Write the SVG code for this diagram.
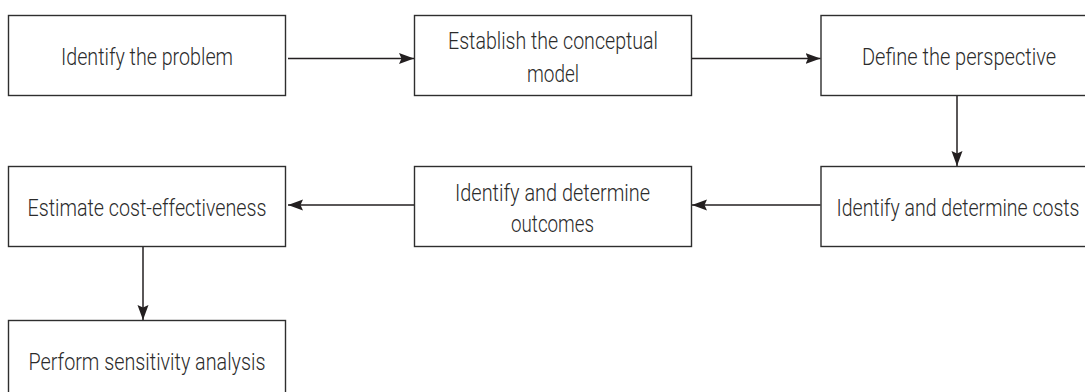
<svg xmlns="http://www.w3.org/2000/svg" width="1085" height="392" viewBox="0 0 1085 392">
<style>
.box{fill:#fff;stroke:#2e2e2e;stroke-width:1.4}
.lbl{font-family:Roboto,"Liberation Sans Narrow","DejaVu Sans Condensed",sans-serif;font-weight:300;font-size:24px;fill:#2b2b2b;text-anchor:middle}
.con{stroke:#231f20;stroke-width:1.5;fill:none;marker-end:url(#ah)}
</style>
<defs>
<marker id="ah" markerUnits="userSpaceOnUse" markerWidth="16" markerHeight="12" viewBox="0 0 16 12" refX="15" refY="6" orient="auto">
<path d="M0,0.5 L15,6 L0,11.5 L2.5,6 z" fill="#231f20"/>
</marker>
</defs>
<g id="n1"><rect class="box" x="8.5" y="15.5" width="277" height="80"/><text class="lbl" x="147" y="64.5" textLength="172" lengthAdjust="spacingAndGlyphs">Identify the problem</text></g>
<g id="n2"><rect class="box" x="414.5" y="15.5" width="277" height="80"/><text class="lbl" x="553" y="49" textLength="210" lengthAdjust="spacingAndGlyphs">Establish the conceptual</text><text class="lbl" x="553" y="81.5" textLength="52" lengthAdjust="spacingAndGlyphs">model</text></g>
<g id="n3"><rect class="box" x="821" y="15.5" width="277" height="80"/><text class="lbl" x="959" y="64.5" textLength="194" lengthAdjust="spacingAndGlyphs">Define the perspective</text></g>
<g id="n6"><rect class="box" x="821" y="166.5" width="277" height="80"/><text class="lbl" x="958" y="216" textLength="243" lengthAdjust="spacingAndGlyphs">Identify and determine costs</text></g>
<g id="n5"><rect class="box" x="414.5" y="166.5" width="277" height="80"/><text class="lbl" x="552.5" y="200.5" textLength="195" lengthAdjust="spacingAndGlyphs">Identify and determine</text><text class="lbl" x="552.5" y="231.5" textLength="83" lengthAdjust="spacingAndGlyphs">outcomes</text></g>
<g id="n4"><rect class="box" x="8.5" y="166.5" width="277" height="80"/><text class="lbl" x="147" y="216" textLength="239" lengthAdjust="spacingAndGlyphs">Estimate cost-effectiveness</text></g>
<g id="n7"><rect class="box" x="8.5" y="320.5" width="277" height="80"/><text class="lbl" x="147" y="370" textLength="237" lengthAdjust="spacingAndGlyphs">Perform sensitivity analysis</text></g>
<g id="connectors">
<line class="con" x1="288" y1="58.5" x2="414" y2="58.5"/>
<line class="con" x1="692" y1="58.5" x2="820.5" y2="58.5"/>
<line class="con" x1="957" y1="96" x2="957" y2="166"/>
<line class="con" x1="820.5" y1="205" x2="692" y2="205"/>
<line class="con" x1="414" y1="205" x2="288" y2="205"/>
<line class="con" x1="143" y1="247" x2="143" y2="320"/>
</g>
</svg>
